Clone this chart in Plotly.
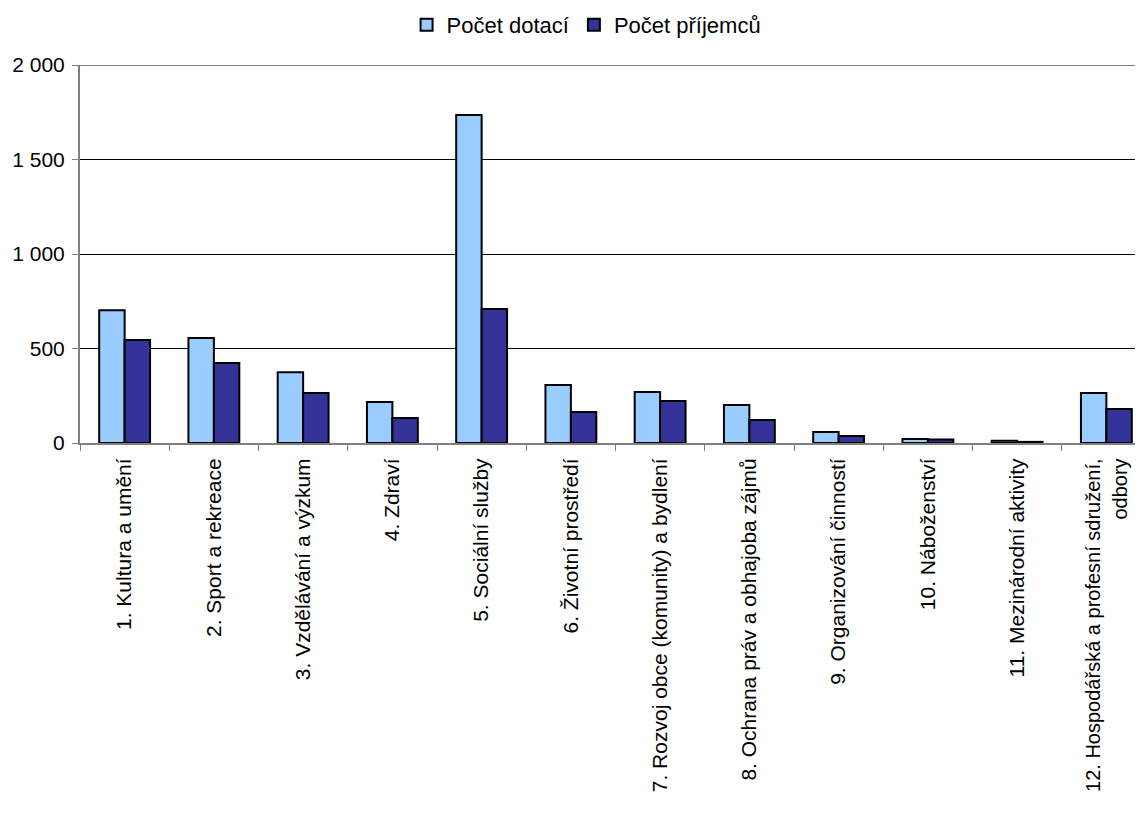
import plotly.graph_objects as go

categories = [
    "1. Kultura a umění",
    "2. Sport a rekreace",
    "3. Vzdělávání a výzkum",
    "4. Zdraví",
    "5. Sociální služby",
    "6. Životní prostředí",
    "7. Rozvoj obce (komunity) a bydlení",
    "8. Ochrana práv a obhajoba zájmů",
    "9. Organizování činností",
    "10. Náboženství",
    "11. Mezinárodní aktivity",
    "12. Hospodářská a profesní sdružení,<br>odbory",
]
pocet_dotaci = [703, 555, 375, 217, 1735, 307, 270, 201, 58, 21, 12, 265]
pocet_prijemcu = [545, 423, 265, 132, 709, 164, 222, 122, 37, 18, 6, 180]
y_ticks = [0, 500, 1000, 1500, 2000]
y_tick_labels = ["0", "500", "1 000", "1 500", "2 000"]

x_tick_text = [c if not c.startswith("12.") else
               '<span style="font-size:20px">' + c.replace("<br>", "</span><br><span style=\"font-size:20px\">") + "</span>"
               for c in categories]

fig = go.Figure()
fig.add_trace(go.Bar(x=categories, y=pocet_dotaci, name="Počet dotací",
                     marker=dict(color="#99CCFF", line=dict(color="black", width=2))))
fig.add_trace(go.Bar(x=categories, y=pocet_prijemcu, name="Počet příjemců",
                     marker=dict(color="#333399", line=dict(color="black", width=2))))

fig.update_layout(
    width=1143, height=816,
    margin=dict(l=72, r=0, t=57, b=381, autoexpand=False),
    paper_bgcolor="white", plot_bgcolor="white",
    font=dict(family="Liberation Sans, Arial, sans-serif", size=21, color="black"),
    barmode="group", bargap=0.43, bargroupgap=0,
    legend=dict(orientation="h", x=0.473, xanchor="center", y=1.106, yanchor="middle",
                font=dict(size=22), itemwidth=30, traceorder="normal",
                tracegroupgap=0),
    showlegend=True,
)
fig.update_yaxes(range=[0, 2000], tickvals=y_ticks, ticktext=y_tick_labels,
                 showgrid=True, gridcolor="black", gridwidth=1,
                 showline=True, linecolor="#808080", linewidth=2,
                 ticks="outside", ticklen=6, tickcolor="#808080", zeroline=False,
                 automargin=False, ticklabelstandoff=3)
fig.update_xaxes(tickangle=-90, showline=True, linecolor="#808080", linewidth=2,
                 ticks="outside", tickson="boundaries", ticklen=6, tickcolor="#808080",
                 tickmode="array", tickvals=categories, ticktext=x_tick_text,
                 mirror=False, automargin=False, ticklabelstandoff=5)
fig.add_shape(type="line", xref="paper", yref="y", x0=0, x1=1, y0=2000, y1=2000,
              line=dict(color="#808080", width=2))
fig.write_html("out.html")
